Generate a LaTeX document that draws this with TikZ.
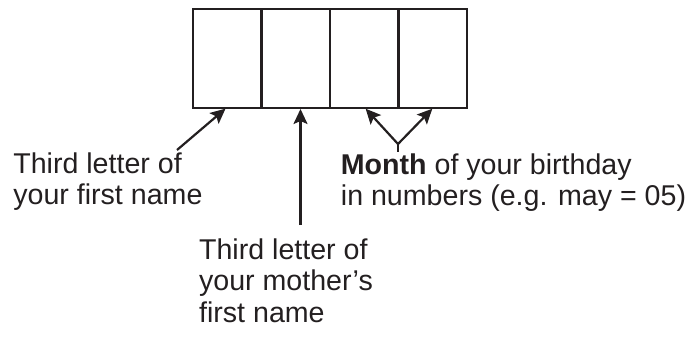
\documentclass[tikz,border=0pt]{standalone}
\usepackage{fontspec}
\setmainfont{Liberation Sans}
\usetikzlibrary{arrows.meta}
\definecolor{ink}{HTML}{231F20}

\begin{document}
\begin{tikzpicture}[x=1pt,y=-1pt,line width=2.2pt,draw=ink,text=ink,
	pointer/.style={-{Stealth[length=15pt,width=14pt,inset=3pt]},shorten >=1pt},
	note/.style={anchor=north west,align=left,inner sep=0pt,font=\fontsize{28.6}{31.5}\selectfont}]

	\useasboundingbox (0,0) rectangle (692,338);

	\begin{scope}[every node/.style={draw=ink,rectangle,line width=2.6pt,outer sep=0pt,inner sep=0pt,minimum width=68.5pt,minimum height=99pt}]
		\node (letter1) at (227.25,58.5) {};
		\node (letter2) at (letter1.east) [right] {};
		\node (month1) at (letter2.east) [right] {};
		\node (month2) at (month1.east) [right] {};
	\end{scope}

	\node[note] (firstname) at (12.2,151.2) {Third letter of\\your first name};
	\node[note] (mothername) at (198,237.6) {Third letter of\\your mother’s\\first name};
	\node[note] (birthmonth) at (339.8,152.2) {\textbf{Month} of your birthday\\in numbers (e.g. may = 05)};

	\coordinate (firsttail) at (177,150);
	\coordinate (mothertail) at (300.5,225);
	\coordinate (monthfork) at (398,144);

	\draw[pointer] (firsttail) -- ([xshift=-1pt]letter1.south);
	\draw[pointer] (mothertail) -- ([xshift=4.75pt]letter2.south);
	\draw (monthfork) -- (monthfork |- birthmonth.north);
	\draw[pointer] (monthfork) -- ([xshift=0.75pt]month1.south);
	\draw[pointer] (monthfork) -- ([xshift=0.25pt]month2.south);

\end{tikzpicture}
\end{document}
